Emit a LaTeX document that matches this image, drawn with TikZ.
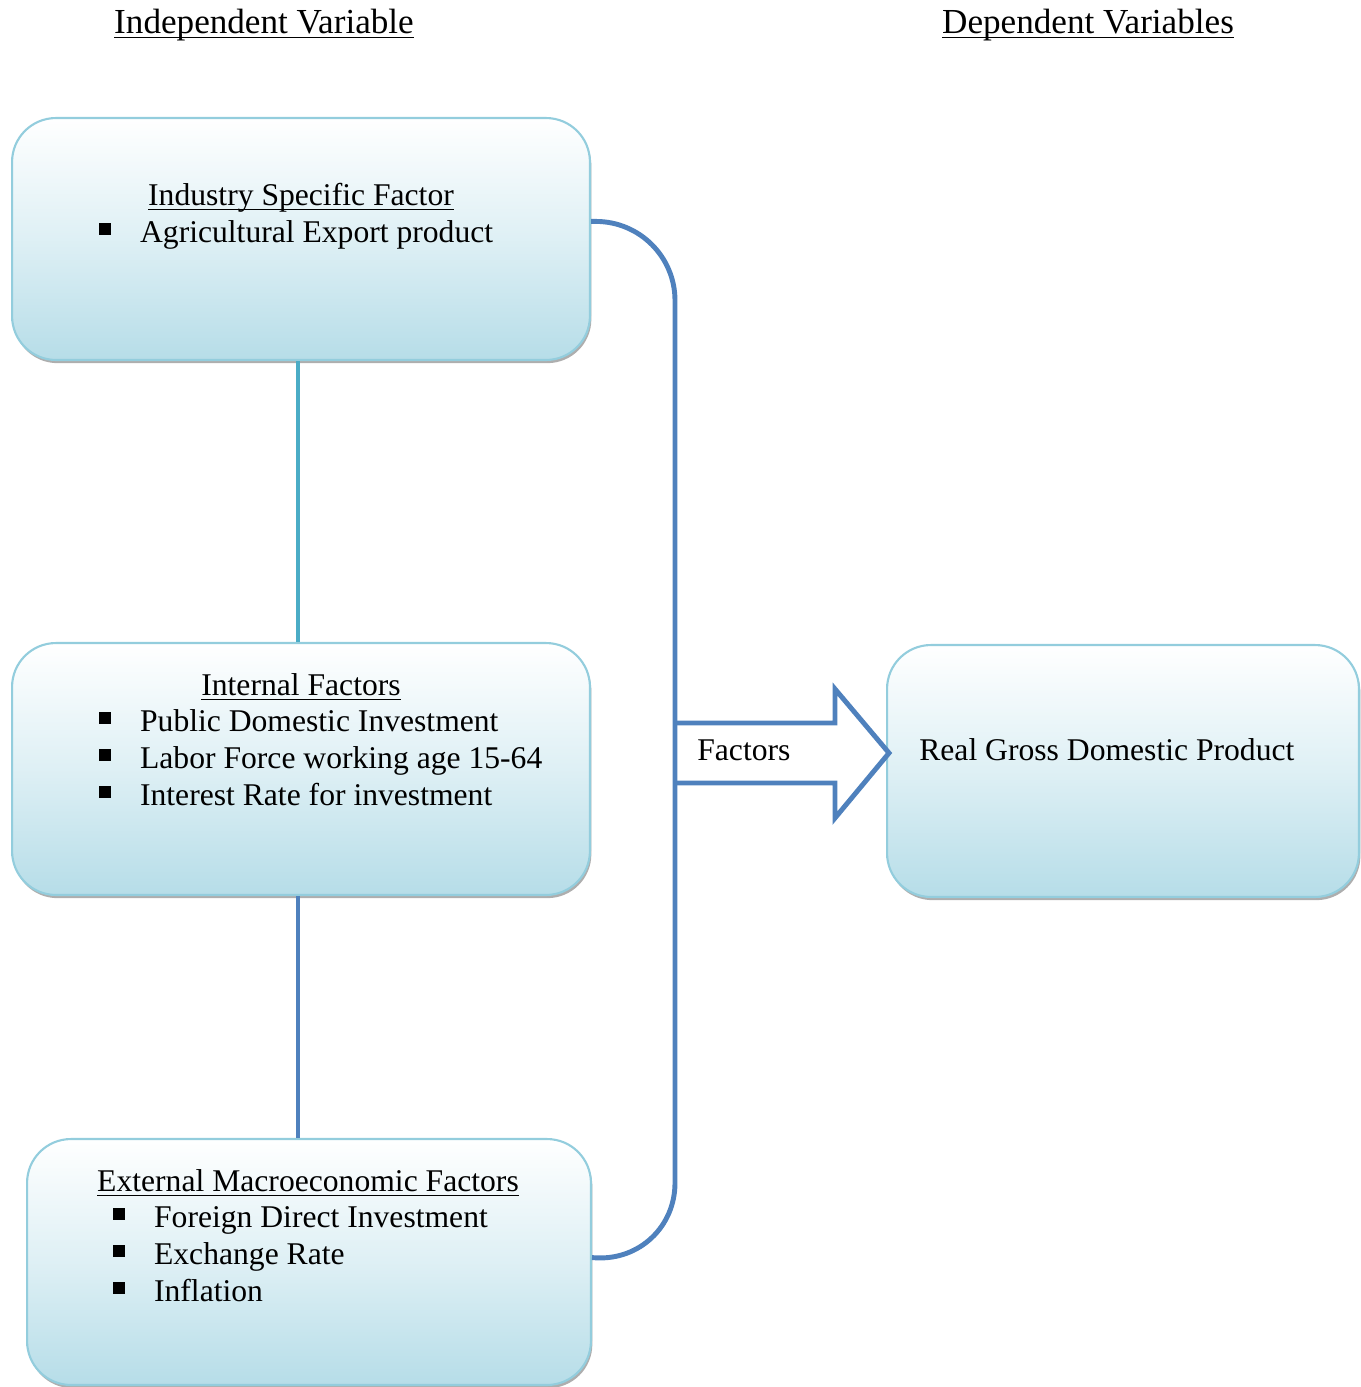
\documentclass[tikz,border=0pt]{standalone}
\usepackage{fontspec}
\setmainfont{Liberation Serif}
\usetikzlibrary{shadows}

\definecolor{boxline}{HTML}{93CDDD}
\definecolor{boxbot}{HTML}{B6DDE8}
\definecolor{linkblue}{HTML}{4F81BD}
\definecolor{linkteal}{HTML}{4BACC6}

% square bullet and word-style underline
\newcommand{\sqb}{\raisebox{4pt}{\rule{6.8pt}{6.8pt}}\hspace{16.4pt}}
\newcommand{\uln}[1]{\setbox0\hbox{#1}\rlap{\rule[-3pt]{\wd0}{1pt}}\box0}

\tikzset{
	box/.style={draw=boxline, line width=1.2pt, rounded corners=25pt,
		top color=white, bottom color=boxbot, middle color=boxbot!45, inner sep=0pt,
		drop shadow={shadow xshift=0.8pt, shadow yshift=-1.8pt, fill=black!45, opacity=0.7}},
	link/.style={draw=linkblue, line width=2.8pt},
	txt/.style={font=\fontsize{18}{21}\selectfont, inner sep=0pt},
	head/.style={font=\fontsize{20}{24}\selectfont, inner sep=0pt}
}

\begin{document}
\begin{tikzpicture}[x=0.02cm, y=-0.02cm]
	
	\useasboundingbox (0,0) rectangle (1361,1387);

	\node[head, anchor=base] (ivar) at (264,33) {\uln{Independent Variable}};
	\node[head, anchor=base] (dvar) at (1088,33) {\uln{Dependent Variables}};

	\node[box, minimum width=11.56cm, minimum height=4.84cm] (isf) at (301,239) {};
	\node[box, minimum width=11.56cm, minimum height=5.04cm] (inf) at (301,769) {};
	\node[box, minimum width=11.28cm, minimum height=4.92cm] (ema) at (309,1262) {};
	\node[box, minimum width=9.44cm, minimum height=5.04cm] (gdp) at (1123,771) {};

	\draw[line width=2.8pt, linkteal] ([xshift=-1.7pt]isf.south) -- ([xshift=-1.7pt]inf.north);
	\draw[line width=2.8pt, linkblue] ([xshift=-1.7pt]inf.south) -- ([xshift=-1.7pt]inf.south |- ema.north);

	\coordinate (bus) at (675,0);
	\coordinate (tip) at (889,753);
	\draw[link, rounded corners=45pt] ([yshift=10pt]isf.east) -| (bus |- ema.east) -- ([yshift=2.5pt]ema.east);
	\draw[link, line join=miter] (bus |- 0,723) -- (835,723) -- (835,689) -- (tip) -- (835,818) -- (835,783) -- (bus |- 0,783);
	\node[txt, anchor=base west] (fct) at (697,760) {Factors};

	\node[txt, anchor=base] (isfT) at (301,205) {\uln{Industry Specific Factor}};
	\node[txt, anchor=base west] (isf1) at (99,242) {\sqb Agricultural Export product};

	\node[txt, anchor=base] (infT) at (301,695) {\uln{Internal Factors}};
	\node[txt, anchor=base west] (inf1) at (99,731) {\sqb Public Domestic Investment};
	\node[txt, anchor=base west] (inf2) at (99,768) {\sqb Labor Force working age 15-64};
	\node[txt, anchor=base west] (inf3) at (99,805) {\sqb Interest Rate for investment};

	\node[txt, anchor=base] (emaT) at (308,1191) {\uln{External Macroeconomic Factors}};
	\node[txt, anchor=base west] (ema1) at (113,1227) {\sqb Foreign Direct Investment};
	\node[txt, anchor=base west] (ema2) at (113,1264) {\sqb Exchange Rate};
	\node[txt, anchor=base west] (ema3) at (113,1301) {\sqb Inflation};

	\node[txt, anchor=base west] (gdpT) at (919,760) {Real Gross Domestic Product};

\end{tikzpicture}
\end{document}
